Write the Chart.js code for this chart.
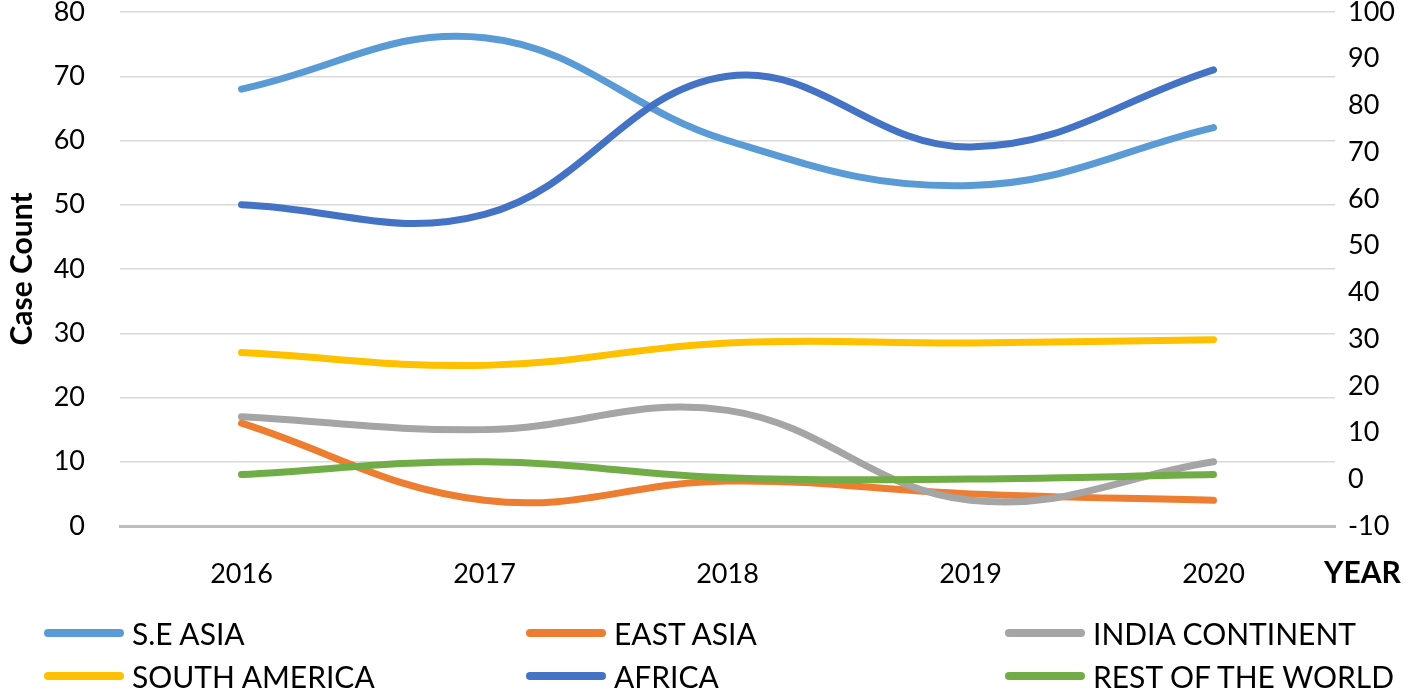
<!DOCTYPE html>
<html>
<head>
<meta charset="utf-8">
<script src="https://cdn.jsdelivr.net/npm/chart.js@4.4.0/dist/chart.umd.min.js"></script>
<style>
  html, body { margin: 0; padding: 0; background: #fff; }
  #wrap { position: relative; width: 1416px; height: 696px; }
  #legend { position: absolute; left: 0; top: 0; width: 1416px; height: 696px; pointer-events: none;
            font-family: Lato, "Open Sans", sans-serif; font-size: 30px; color: #000; }
  .item { position: absolute; display: flex; align-items: center; height: 40px; white-space: nowrap; }
  .swatch { width: 80px; height: 8px; border-radius: 4px; margin-right: 8px; }
</style>
</head>
<body>
<div id="wrap">
  <canvas id="chart" width="1416" height="696"></canvas>
  <div id="legend"></div>
</div>
<script>
const YEARS = ["2016", "2017", "2018", "2019", "2020"];

const SE_ASIA = [68, 76, 60, 53, 62];
const EAST_ASIA = [16, 4, 7, 5, 4];
const INDIA_CONTINENT = [17, 15, 18, 4, 10];
const SOUTH_AMERICA = [27, 25, 28.5, 28.5, 29];
const AFRICA = [50, 48.5, 70, 59, 71];
const REST_OF_WORLD = [8, 10, 7.5, 7.3, 8];

const SERIES = [
  { label: "S.E ASIA", data: SE_ASIA, color: "#5B9BD5" },
  { label: "EAST ASIA", data: EAST_ASIA, color: "#ED7D31" },
  { label: "INDIA CONTINENT", data: INDIA_CONTINENT, color: "#A5A5A5" },
  { label: "SOUTH AMERICA", data: SOUTH_AMERICA, color: "#FFC000" },
  { label: "AFRICA", data: AFRICA, color: "#4472C4" },
  { label: "REST OF THE WORLD", data: REST_OF_WORLD, color: "#70AD47" },
];

const FONT = "Lato, 'Open Sans', sans-serif";

// "YEAR" title sits to the right of the last category label
const yearTitle = {
  id: "yearTitle",
  afterDraw(chart) {
    const { ctx, chartArea } = chart;
    ctx.save();
    ctx.font = "bold 30px " + FONT;
    ctx.fillStyle = "#000";
    ctx.textAlign = "left";
    ctx.textBaseline = "middle";
    ctx.fillText("YEAR", 1324, chartArea.bottom + 47);
    ctx.restore();
  },
};

// fixed axis width, and keep the plot top close to the canvas edge
const fitSide = w => s => { s.width = w; s.paddingTop = 12; s.paddingBottom = 0; };

new Chart(document.getElementById("chart"), {
  type: "line",
  data: {
    labels: YEARS,
    datasets: SERIES.map((s, i) => ({
      label: s.label,
      data: s.data,
      borderColor: s.color,
      backgroundColor: s.color,
      borderWidth: 7,
      borderCapStyle: "round",
      borderJoinStyle: "round",
      pointRadius: 0,
      tension: 0.4,
      fill: false,
      yAxisID: "y",
      order: SERIES.length - i,
    })),
  },
  options: {
    responsive: false,
    animation: false,
    layout: { padding: { top: 0, right: 0, bottom: 100, left: 0 } },
    plugins: {
      legend: { display: false },
      tooltip: { enabled: false },
    },
    scales: {
      x: {
        offset: true,
        grid: { display: false, drawTicks: false },
        border: { display: true, color: "#BFBFBF", width: 3 },
        ticks: { color: "#000", padding: 32, font: { family: FONT, size: 27 } },
        afterFit: s => { s.height = 70; },
      },
      y: {
        position: "left",
        min: 0,
        max: 80,
        ticks: { stepSize: 10, color: "#000", padding: 35, font: { family: FONT, size: 27 } },
        grid: { color: "#D9D9D9", lineWidth: 1.5, drawTicks: false },
        border: { display: false },
        title: {
          display: true,
          text: "Case Count",
          color: "#000",
          padding: 4,
          font: { family: FONT, size: 30, weight: "bold" },
        },
        afterFit: fitSide(120),
      },
      y1: {
        position: "right",
        min: -10,
        max: 100,
        ticks: { stepSize: 10, color: "#000", padding: 13, font: { family: FONT, size: 27 } },
        grid: { display: false, drawTicks: false },
        border: { display: false },
        afterFit: fitSide(81),
      },
    },
  },
  plugins: [yearTitle],
});

// legend: three columns, two rows
const legendPos = [
  [44, 613], [526, 613], [1005, 613],
  [44, 656], [526, 656], [1005, 656],
];
const legend = document.getElementById("legend");
SERIES.forEach((s, i) => {
  const el = document.createElement("div");
  el.className = "item";
  el.style.left = legendPos[i][0] + "px";
  el.style.top = legendPos[i][1] + "px";
  el.innerHTML = `<span class="swatch" style="background:${s.color}"></span><span>${s.label}</span>`;
  legend.appendChild(el);
});
</script>
</body>
</html>
